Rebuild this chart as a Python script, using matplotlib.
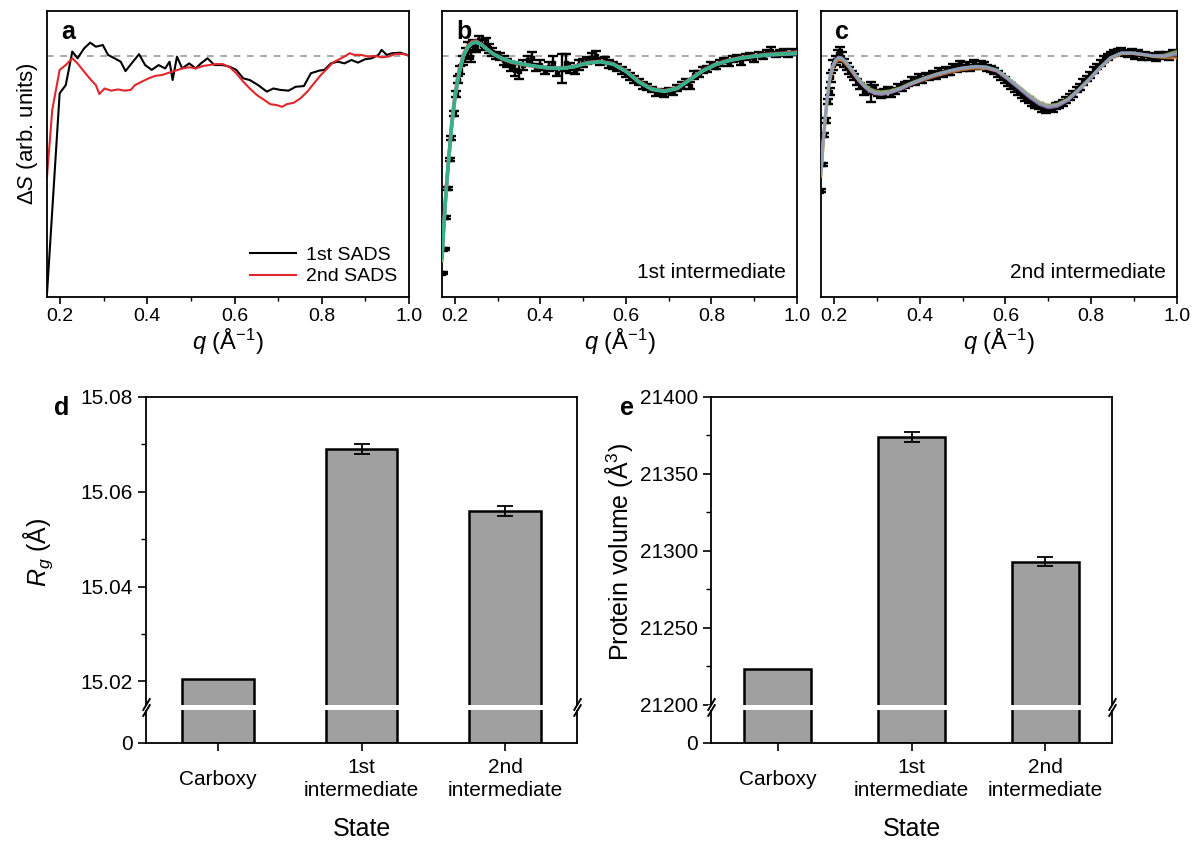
import matplotlib
matplotlib.use("Agg")
import matplotlib.pyplot as plt
import matplotlib.transforms as mtransforms
from matplotlib.patches import Rectangle
from matplotlib.ticker import FixedLocator, FormatStrFormatter
import numpy as np

plt.rcParams['font.family'] = ['Liberation Sans', 'DejaVu Sans']
plt.rcParams['mathtext.fontset'] = 'custom'
plt.rcParams['mathtext.rm'] = 'Liberation Sans'
plt.rcParams['mathtext.it'] = 'Liberation Sans:italic'
plt.rcParams['axes.linewidth'] = 1.3

# --- panel a: species-associated difference scattering ---
q_sads1 = [0.170, 0.199, 0.213, 0.228, 0.240, 0.255, 0.269, 0.282, 0.298, 0.310,
           0.325, 0.339, 0.350, 0.364, 0.381, 0.395, 0.410, 0.426, 0.441, 0.451,
           0.458, 0.468, 0.480, 0.496, 0.511, 0.523, 0.538, 0.554, 0.573, 0.589,
           0.604, 0.620, 0.635, 0.654, 0.674, 0.689, 0.705, 0.724, 0.740, 0.759,
           0.775, 0.794, 0.806, 0.821, 0.837, 0.852, 0.868, 0.883, 0.899, 0.914,
           0.930, 0.937, 0.949, 0.961, 0.980, 0.996]
sads1 = [-0.986, -0.156, -0.122, 0.017, -0.011, 0.030, 0.054, 0.037, 0.044, 0.003,
         -0.011, -0.025, -0.064, -0.032, 0.006, -0.039, -0.059, -0.039, -0.053, -0.025,
         -0.101, -0.004, -0.053, -0.032, -0.053, -0.032, -0.011, -0.039, -0.039, -0.046,
         -0.059, -0.094, -0.101, -0.122, -0.149, -0.136, -0.142, -0.145, -0.129, -0.126,
         -0.073, -0.062, -0.059, -0.032, -0.025, -0.032, -0.018, -0.029, -0.015, -0.011,
         0.003, 0.024, 0.003, 0.010, 0.012, 0.003]

q_sads2 = [0.170, 0.182, 0.199, 0.213, 0.228, 0.240, 0.255, 0.271, 0.282, 0.290,
           0.302, 0.317, 0.333, 0.348, 0.362, 0.372, 0.387, 0.403, 0.418, 0.434,
           0.449, 0.465, 0.480, 0.496, 0.511, 0.527, 0.542, 0.558, 0.573, 0.589,
           0.604, 0.620, 0.635, 0.651, 0.666, 0.682, 0.697, 0.709, 0.720, 0.736,
           0.751, 0.767, 0.782, 0.798, 0.813, 0.825, 0.837, 0.852, 0.864, 0.875,
           0.891, 0.906, 0.922, 0.937, 0.953, 0.968, 0.984, 0.996]
sads2 = [-0.502, -0.225, -0.059, -0.039, -0.011, -0.032, -0.066, -0.101, -0.122, -0.159,
         -0.136, -0.145, -0.140, -0.145, -0.142, -0.122, -0.108, -0.094, -0.084, -0.080,
         -0.071, -0.062, -0.053, -0.048, -0.053, -0.043, -0.039, -0.035, -0.035, -0.048,
         -0.073, -0.108, -0.136, -0.163, -0.181, -0.201, -0.205, -0.212, -0.201, -0.195,
         -0.177, -0.149, -0.115, -0.080, -0.053, -0.029, -0.018, -0.004, 0.010, 0.003,
         0.003, -0.004, -0.001, -0.007, -0.004, 0.007, 0.007, 0.003]

# --- panel b: 1st intermediate, data with errors and fits ---
q_b = [0.172, 0.176, 0.180, 0.184, 0.188, 0.192, 0.197, 0.202, 0.207, 0.213,
       0.219, 0.225, 0.231, 0.237, 0.243, 0.250, 0.257, 0.264, 0.272, 0.280,
       0.288, 0.296, 0.305, 0.314, 0.323, 0.332, 0.341, 0.350, 0.360, 0.370,
       0.380, 0.390, 0.400, 0.410, 0.420, 0.430, 0.440, 0.450, 0.460, 0.470,
       0.480, 0.490, 0.500, 0.510, 0.520, 0.530, 0.540, 0.550, 0.560, 0.570,
       0.580, 0.590, 0.600, 0.610, 0.620, 0.630, 0.640, 0.650, 0.660, 0.670,
       0.680, 0.690, 0.700, 0.710, 0.720, 0.730, 0.740, 0.750, 0.760, 0.770,
       0.780, 0.790, 0.800, 0.810, 0.820, 0.830, 0.840, 0.850, 0.860, 0.870,
       0.880, 0.890, 0.900, 0.910, 0.920, 0.930, 0.940, 0.950, 0.960, 0.970,
       0.980, 0.990]
s_b = [-0.900, -0.800, -0.670, -0.550, -0.430, -0.340, -0.240, -0.160, -0.100, -0.060,
       -0.020, 0.010, 0.025, -0.005, 0.045, 0.035, 0.065, 0.045, 0.060, 0.030,
       0.015, 0.000, -0.005, -0.020, -0.030, -0.045, -0.060, -0.065, -0.040, -0.020,
       -0.010, -0.050, -0.040, -0.060, -0.045, -0.030, -0.070, -0.055, -0.030, -0.050,
       -0.060, -0.040, -0.030, -0.020, -0.010, 0.000, -0.025, -0.020, -0.035, -0.040,
       -0.050, -0.060, -0.075, -0.085, -0.100, -0.110, -0.125, -0.130, -0.140, -0.155,
       -0.150, -0.160, -0.145, -0.150, -0.135, -0.125, -0.110, -0.125, -0.080, -0.075,
       -0.060, -0.055, -0.040, -0.045, -0.030, -0.020, -0.030, -0.015, -0.010, -0.025,
       -0.005, 0.000, -0.015, 0.005, 0.000, 0.010, 0.020, 0.005, 0.010, 0.015,
       0.005, 0.015]
e_b = [0.004, 0.004, 0.005, 0.006, 0.006, 0.008, 0.010, 0.012, 0.015, 0.018,
       0.020, 0.022, 0.030, 0.020, 0.020, 0.020, 0.015, 0.020, 0.015, 0.020,
       0.015, 0.015, 0.015, 0.020, 0.015, 0.020, 0.025, 0.030, 0.020, 0.020,
       0.025, 0.015, 0.020, 0.015, 0.020, 0.030, 0.015, 0.060, 0.035, 0.020,
       0.015, 0.020, 0.015, 0.015, 0.020, 0.020, 0.015, 0.015, 0.015, 0.015,
       0.015, 0.015, 0.015, 0.015, 0.015, 0.012, 0.015, 0.012, 0.012, 0.012,
       0.012, 0.012, 0.012, 0.012, 0.012, 0.015, 0.012, 0.015, 0.015, 0.012,
       0.012, 0.012, 0.012, 0.012, 0.012, 0.012, 0.012, 0.012, 0.012, 0.012,
       0.012, 0.012, 0.012, 0.012, 0.012, 0.012, 0.015, 0.012, 0.012, 0.012,
       0.012, 0.012]

q_fit_b = [0.170, 0.175, 0.180, 0.186, 0.193, 0.201, 0.210, 0.220, 0.230, 0.240,
           0.250, 0.262, 0.275, 0.290, 0.310, 0.330, 0.360, 0.390, 0.420, 0.450,
           0.480, 0.510, 0.540, 0.570, 0.600, 0.630, 0.660, 0.690, 0.720, 0.750,
           0.780, 0.810, 0.840, 0.870, 0.900, 0.930, 0.960, 0.990, 1.000]
fit_b_red = [-0.83, -0.67, -0.54, -0.41, -0.27, -0.15, -0.062, 0.006, 0.040, 0.058,
             0.061, 0.049, 0.028, 0.007, -0.013, -0.027, -0.038, -0.046, -0.052, -0.052,
             -0.043, -0.028, -0.023, -0.033, -0.062, -0.105, -0.136, -0.145, -0.133, -0.096,
             -0.060, -0.034, -0.018, -0.007, 0.000, 0.006, 0.010, 0.014, 0.016]
fit_b_blue = [-0.84, -0.69, -0.56, -0.43, -0.29, -0.17, -0.075, -0.005, 0.032, 0.050,
              0.054, 0.045, 0.027, 0.008, -0.010, -0.023, -0.035, -0.043, -0.050, -0.052,
              -0.045, -0.031, -0.026, -0.036, -0.066, -0.110, -0.140, -0.149, -0.137, -0.100,
              -0.064, -0.038, -0.022, -0.011, -0.004, 0.001, 0.004, 0.006, 0.007]
fit_b_green = [-0.85, -0.69, -0.555, -0.425, -0.285, -0.165, -0.072, -0.002, 0.034, 0.052,
               0.056, 0.046, 0.027, 0.007, -0.011, -0.024, -0.036, -0.044, -0.051, -0.053,
               -0.046, -0.031, -0.025, -0.035, -0.065, -0.108, -0.139, -0.148, -0.136, -0.099,
               -0.063, -0.037, -0.021, -0.010, -0.003, 0.003, 0.006, 0.009, 0.010]
fit_b_teal = [-0.84, -0.68, -0.55, -0.42, -0.28, -0.16, -0.070, 0.000, 0.035, 0.053,
              0.057, 0.046, 0.026, 0.006, -0.012, -0.025, -0.036, -0.045, -0.052, -0.053,
              -0.045, -0.030, -0.025, -0.035, -0.064, -0.108, -0.138, -0.147, -0.135, -0.098,
              -0.062, -0.036, -0.020, -0.009, -0.002, 0.004, 0.008, 0.011, 0.012]

# --- panel c: 2nd intermediate ---
q_c = [0.171, 0.174, 0.178, 0.182, 0.186, 0.190, 0.194, 0.199, 0.204, 0.209,
       0.214, 0.219, 0.224, 0.230, 0.236, 0.242, 0.248, 0.255, 0.262, 0.270,
       0.278, 0.286, 0.294, 0.302, 0.310, 0.318, 0.326, 0.334, 0.342, 0.350,
       0.358, 0.366, 0.374, 0.382, 0.390, 0.398, 0.406, 0.414, 0.422, 0.430,
       0.438, 0.446, 0.454, 0.462, 0.470, 0.478, 0.486, 0.494, 0.502, 0.510,
       0.518, 0.526, 0.534, 0.542, 0.550, 0.558, 0.566, 0.574, 0.582, 0.590,
       0.598, 0.606, 0.614, 0.622, 0.630, 0.638, 0.646, 0.654, 0.662, 0.670,
       0.678, 0.686, 0.694, 0.702, 0.710, 0.718, 0.726, 0.734, 0.742, 0.750,
       0.758, 0.766, 0.774, 0.782, 0.790, 0.798, 0.806, 0.814, 0.822, 0.830,
       0.838, 0.846, 0.854, 0.862, 0.870, 0.878, 0.886, 0.894, 0.902, 0.910,
       0.918, 0.926, 0.934, 0.942, 0.950, 0.958, 0.966, 0.974, 0.982, 0.990,
       0.998]
s_c = [-0.560, -0.450, -0.330, -0.270, -0.190, -0.150, -0.090, -0.040, -0.020, 0.005,
       0.010, -0.005, -0.030, -0.045, -0.060, -0.075, -0.090, -0.110, -0.125, -0.150,
       -0.140, -0.150, -0.135, -0.155, -0.165, -0.155, -0.140, -0.160, -0.145, -0.130,
       -0.135, -0.120, -0.115, -0.100, -0.110, -0.090, -0.100, -0.085, -0.090, -0.075,
       -0.085, -0.065, -0.075, -0.060, -0.070, -0.045, -0.055, -0.035, -0.050, -0.040,
       -0.050, -0.030, -0.045, -0.035, -0.040, -0.050, -0.055, -0.065, -0.075, -0.090,
       -0.100, -0.115, -0.125, -0.140, -0.150, -0.165, -0.175, -0.185, -0.195, -0.205,
       -0.210, -0.220, -0.225, -0.215, -0.220, -0.210, -0.205, -0.195, -0.185, -0.170,
       -0.160, -0.140, -0.130, -0.110, -0.095, -0.080, -0.060, -0.045, -0.030, -0.015,
       -0.005, 0.005, 0.010, 0.015, 0.020, 0.010, 0.005, 0.015, 0.000, 0.010,
       -0.005, 0.005, -0.005, 0.000, -0.010, 0.005, 0.000, 0.005, -0.005, 0.010,
       0.005]
e_c = [0.006, 0.006, 0.008, 0.010, 0.012, 0.015, 0.018, 0.020, 0.020, 0.020,
       0.025, 0.020, 0.015, 0.015, 0.015, 0.012, 0.012, 0.012, 0.012, 0.015,
       0.020, 0.040, 0.015, 0.012, 0.012, 0.015, 0.012, 0.012, 0.012, 0.012,
       0.012, 0.012, 0.012, 0.012, 0.012, 0.012, 0.012, 0.012, 0.012, 0.012,
       0.012, 0.012, 0.012, 0.012, 0.012, 0.012, 0.012, 0.012, 0.012, 0.012,
       0.012, 0.012, 0.012, 0.012, 0.012, 0.012, 0.012, 0.012, 0.012, 0.012,
       0.012, 0.012, 0.012, 0.012, 0.012, 0.012, 0.012, 0.012, 0.012, 0.012,
       0.012, 0.012, 0.012, 0.012, 0.012, 0.012, 0.012, 0.012, 0.012, 0.012,
       0.012, 0.012, 0.012, 0.012, 0.012, 0.012, 0.012, 0.012, 0.012, 0.012,
       0.012, 0.012, 0.012, 0.012, 0.012, 0.012, 0.012, 0.012, 0.012, 0.012,
       0.012, 0.012, 0.012, 0.012, 0.012, 0.012, 0.012, 0.012, 0.012, 0.012,
       0.012]

q_fit_c = [0.170, 0.175, 0.180, 0.185, 0.190, 0.197, 0.204, 0.211, 0.218, 0.226,
           0.234, 0.242, 0.250, 0.260, 0.270, 0.282, 0.295, 0.310, 0.330, 0.355,
           0.380, 0.410, 0.440, 0.470, 0.500, 0.530, 0.555, 0.580, 0.605, 0.630,
           0.655, 0.680, 0.700, 0.720, 0.745, 0.770, 0.795, 0.820, 0.845, 0.870,
           0.895, 0.920, 0.945, 0.970, 1.000]
fit_c_orange = [-0.50, -0.37, -0.27, -0.18, -0.11, -0.055, -0.028, -0.018, -0.019, -0.030,
                -0.047, -0.066, -0.086, -0.108, -0.127, -0.144, -0.155, -0.158, -0.152, -0.138,
                -0.119, -0.100, -0.083, -0.069, -0.058, -0.052, -0.053, -0.064, -0.095, -0.130,
                -0.166, -0.197, -0.210, -0.206, -0.183, -0.144, -0.100, -0.053, -0.012, 0.008,
                0.009, 0.004, -0.004, -0.008, -0.010]
fit_c_purple = [-0.48, -0.35, -0.25, -0.165, -0.098, -0.043, -0.016, -0.006, -0.009, -0.021,
                -0.040, -0.061, -0.082, -0.106, -0.126, -0.145, -0.157, -0.161, -0.155, -0.140,
                -0.118, -0.096, -0.078, -0.064, -0.052, -0.046, -0.049, -0.063, -0.097, -0.134,
                -0.172, -0.203, -0.216, -0.211, -0.187, -0.146, -0.101, -0.052, -0.009, 0.012,
                0.012, 0.006, 0.000, 0.000, 0.005]
fit_c_olive = [-0.49, -0.36, -0.255, -0.168, -0.100, -0.046, -0.020, -0.011, -0.013, -0.024,
               -0.041, -0.060, -0.079, -0.100, -0.118, -0.135, -0.146, -0.150, -0.146, -0.133,
               -0.113, -0.093, -0.076, -0.063, -0.052, -0.046, -0.048, -0.060, -0.091, -0.126,
               -0.162, -0.193, -0.206, -0.202, -0.180, -0.141, -0.097, -0.050, -0.010, 0.009,
               0.010, 0.005, -0.002, 0.002, 0.018]
fit_c_slate = [-0.49, -0.36, -0.26, -0.17, -0.10, -0.045, -0.018, -0.008, -0.010, -0.022,
               -0.040, -0.060, -0.080, -0.103, -0.122, -0.140, -0.151, -0.155, -0.150, -0.136,
               -0.115, -0.094, -0.076, -0.062, -0.050, -0.044, -0.046, -0.059, -0.092, -0.128,
               -0.165, -0.196, -0.209, -0.205, -0.182, -0.142, -0.098, -0.050, -0.008, 0.011,
               0.011, 0.005, -0.002, -0.003, 0.010]

# --- panels d, e: structural parameters per state ---
states = ['Carboxy', '1st\nintermediate', '2nd\nintermediate']
rg = [15.0206, 15.0690, 15.0560]
rg_err = [0.0, 0.0010, 0.0010]
volume = [21223, 21374, 21293]
volume_err = [0, 3, 3]

W, H = 1198, 848
fig = plt.figure(figsize=(W / 100, H / 100), dpi=100)


def box(l, t, r, b):
    return [l / W, 1 - b / H, (r - l) / W, (b - t) / H]


def style_top(ax, letter):
    ax.set_xlim(0.17, 1.0)
    ax.set_ylim(-1.0, 0.185)
    ax.set_yticks([])
    ax.xaxis.set_major_locator(FixedLocator([0.2, 0.4, 0.6, 0.8, 1.0]))
    ax.xaxis.set_minor_locator(FixedLocator([0.3, 0.5, 0.7, 0.9]))
    ax.xaxis.set_major_formatter(FormatStrFormatter('%.1f'))
    ax.tick_params(axis='x', which='major', direction='out', length=5, width=1.2,
                   labelsize=14, pad=3)
    ax.tick_params(axis='x', which='minor', direction='out', length=3, width=1.0)
    ax.axhline(0, color='#9a9a9a', ls=(0, (4, 4)), lw=1.2, zorder=0)
    ax.set_xlabel(r'$q$ (Å$^{-1}$)', fontsize=17, labelpad=1)
    ax.text(0.04, 0.97, letter, transform=ax.transAxes, fontsize=18,
            fontweight='bold', va='top', ha='left')


ax_a = fig.add_axes(box(47, 11, 409, 297))
ax_a.plot(q_sads1, sads1, color='black', lw=1.5, label='1st SADS')
ax_a.plot(q_sads2, sads2, color='#e3262b', lw=1.5, label='2nd SADS')
style_top(ax_a, 'a')
ax_a.set_ylabel(r'Δ$S$ (arb. units)', fontsize=16)
ax_a.yaxis.set_label_coords(-0.018, 0.57)
ax_a.legend(loc='lower right', frameon=False, fontsize=14, handlelength=2.4,
            borderaxespad=0.2, labelspacing=0.2, handletextpad=0.5)

ax_b = fig.add_axes(box(442, 11, 797, 297))
ax_b.errorbar(q_b, s_b, yerr=e_b, fmt='s', ms=2.2, color='black', ecolor='black',
              elinewidth=1.7, capsize=3.5, capthick=1.7, zorder=2)
for vals, col in [(fit_b_red, '#e0443e'), (fit_b_blue, '#3a78c8'),
                  (fit_b_green, '#8cc04a'), (fit_b_teal, '#2fae94')]:
    ax_b.plot(q_fit_b, vals, color=col, lw=2.4, alpha=0.9, zorder=3)
style_top(ax_b, 'b')
ax_b.text(0.97, 0.085, '1st intermediate', transform=ax_b.transAxes, fontsize=15,
          ha='right', va='center')

ax_c = fig.add_axes(box(821, 11, 1177, 297))
ax_c.errorbar(q_c, s_c, yerr=e_c, fmt='s', ms=2.2, color='black', ecolor='black',
              elinewidth=1.7, capsize=3.5, capthick=1.7, zorder=2)
for vals, col in [(fit_c_olive, '#b5c24e'), (fit_c_orange, '#e38b3d'),
                  (fit_c_purple, '#a384c9'), (fit_c_slate, '#86a8b8')]:
    ax_c.plot(q_fit_c, vals, color=col, lw=2.2, alpha=0.75, zorder=3)
style_top(ax_c, 'c')
ax_c.text(0.97, 0.085, '2nd intermediate', transform=ax_c.transAxes, fontsize=15,
          ha='right', va='center')


def bar_panel(l, r, vals, errs, lo, hi, major, minor, fmt, ylabel, ypad, letter, lx):
    up = fig.add_axes(box(l, 397, r, 707))
    low = fig.add_axes(box(l, 707, r, 743), sharex=up)
    x = np.arange(len(states))
    for ax in (up, low):
        ax.bar(x, vals, width=0.5, color='#a0a0a0', edgecolor='black',
               linewidth=1.8, zorder=2)
    idx = [i for i in range(len(vals)) if errs[i] > 0]
    up.errorbar([x[i] for i in idx], [vals[i] for i in idx],
                yerr=[errs[i] for i in idx], fmt='none', ecolor='black',
                elinewidth=1.3, capsize=6, capthick=1.3, zorder=3)
    up.set_ylim(lo, hi)
    low.set_ylim(0, 1)
    low.set_xlim(-0.5, 2.5)
    up.spines['bottom'].set_visible(False)
    low.spines['top'].set_visible(False)
    up.yaxis.set_major_locator(FixedLocator(major))
    up.yaxis.set_minor_locator(FixedLocator(minor))
    up.yaxis.set_major_formatter(FormatStrFormatter(fmt))
    up.tick_params(axis='y', which='major', direction='out', length=6, width=1.2,
                   labelsize=15, right=False)
    up.tick_params(axis='y', which='minor', direction='out', length=3.5, width=1.0)
    up.tick_params(axis='x', which='both', bottom=False, labelbottom=False)
    low.set_yticks([0])
    low.tick_params(axis='y', direction='out', length=6, width=1.2, labelsize=15)
    low.set_xticks(x)
    low.set_xticklabels(states, va='center', ha='center', fontsize=15,
                        linespacing=1.3)
    low.tick_params(axis='x', direction='out', length=6, width=1.2, pad=20)
    up.set_ylabel(ylabel, fontsize=18, labelpad=ypad)
    low.set_xlabel('State', fontsize=18, labelpad=12)

    # white gap across the bars and the // marks on both spines
    gap = Rectangle((-0.008, 1 - 2.5 / 36), 1.016, 5 / 36, transform=low.transAxes,
                    facecolor='white', edgecolor='none', clip_on=False, zorder=6)
    low.add_patch(gap)
    for xa in (0, 1):
        for dy in (-3, 3):
            tr = mtransforms.offset_copy(low.transAxes, fig=fig, x=0, y=dy,
                                         units='dots')
            low.plot([xa], [1], transform=tr, marker=[(-0.6, -1), (0.6, 1)],
                     ms=9, mew=1.4, color='black', ls='none', clip_on=False,
                     zorder=7)
    fig.text(lx / W, 1 - 396 / H, letter, fontsize=18, fontweight='bold',
             va='top', ha='left')
    return up, low


bar_panel(146, 577, rg, rg_err, 15.0146, 15.08,
          [15.02, 15.04, 15.06, 15.08], [15.03, 15.05, 15.07], '%.2f',
          r'$R_g$ (Å)', 18, 'd', 54)
bar_panel(711, 1112, volume, volume_err, 21198.5, 21400,
          [21200, 21250, 21300, 21350, 21400], [21225, 21275, 21325, 21375], '%d',
          r'Protein volume (Å$^3$)', 3, 'e', 620)

fig.savefig('out.png', dpi=100)
